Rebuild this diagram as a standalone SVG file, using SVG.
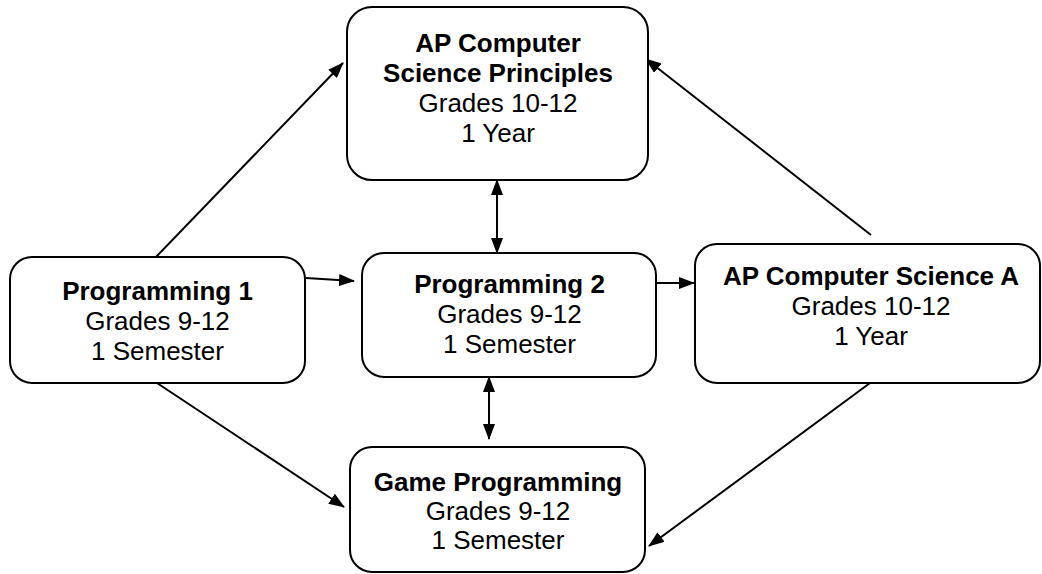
<svg xmlns="http://www.w3.org/2000/svg" width="1042" height="574" viewBox="0 0 1042 574">
<style>
.box{fill:#fff;stroke:#000;stroke-width:2}
.t{font-family:"Liberation Sans",Arial,sans-serif;font-size:26px;text-anchor:middle;fill:#000}
.b{font-weight:bold}
.c{stroke:#000;stroke-width:2;fill:none;marker-end:url(#ah)}
.d{marker-start:url(#ah)}
</style>
<defs>
<marker id="ah" markerUnits="userSpaceOnUse" markerWidth="16" markerHeight="12" refX="15" refY="6" orient="auto-start-reverse" viewBox="0 0 16 12">
<path d="M0,0 L16,6 L0,12 z" fill="#000"/>
</marker>
</defs>
<rect width="1042" height="574" fill="#fff"/>
<g id="connectors">
<line class="c" x1="156" y1="257" x2="343" y2="63"/>
<line class="c" x1="871" y1="235" x2="646" y2="59"/>
<line class="c" x1="306" y1="278" x2="354" y2="281"/>
<line class="c" x1="650" y1="283" x2="694" y2="283"/>
<line class="c d" x1="497" y1="180" x2="497" y2="253"/>
<line class="c d" x1="489" y1="377" x2="489" y2="439"/>
<line class="c" x1="157" y1="383" x2="344" y2="507"/>
<line class="c" x1="870" y1="383" x2="649" y2="546"/>
</g>
<g id="csp">
<rect class="box" x="347" y="7" width="301" height="173" rx="25"/>
<text class="t b" x="498" y="52">AP Computer</text>
<text class="t b" x="498" y="82">Science Principles</text>
<text class="t" x="498" y="112">Grades 10-12</text>
<text class="t" x="498" y="142">1 Year</text>
</g>
<g id="prog1">
<rect class="box" x="10" y="257" width="295" height="126" rx="22"/>
<text class="t b" x="157.5" y="300">Programming 1</text>
<text class="t" x="157.5" y="330">Grades 9-12</text>
<text class="t" x="157.5" y="360">1 Semester</text>
</g>
<g id="prog2">
<rect class="box" x="362" y="253" width="294" height="124" rx="22"/>
<text class="t b" x="509.5" y="293">Programming 2</text>
<text class="t" x="509.5" y="323">Grades 9-12</text>
<text class="t" x="509.5" y="353">1 Semester</text>
</g>
<g id="csa">
<rect class="box" x="695" y="244" width="345" height="139" rx="22"/>
<text class="t b" x="871" y="285">AP Computer Science A</text>
<text class="t" x="871" y="315">Grades 10-12</text>
<text class="t" x="871" y="345">1 Year</text>
</g>
<g id="game">
<rect class="box" x="350" y="447" width="295" height="125" rx="22"/>
<text class="t b" x="498" y="491">Game Programming</text>
<text class="t" x="498" y="520">Grades 9-12</text>
<text class="t" x="498" y="549">1 Semester</text>
</g>
</svg>
